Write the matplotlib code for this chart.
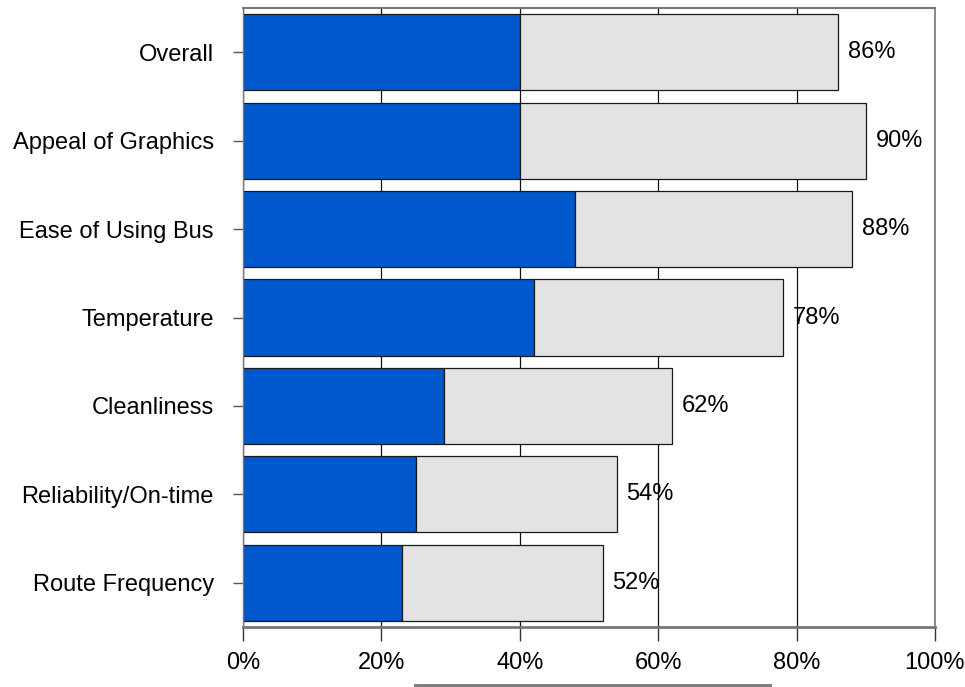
import matplotlib
matplotlib.use("Agg")
import matplotlib.pyplot as plt
from matplotlib.patches import Rectangle
import numpy as np

plt.rcParams['font.family'] = ['Liberation Sans', 'DejaVu Sans']
fs = 17

categories = ["Overall", "Appeal of Graphics", "Ease of Using Bus", "Temperature",
              "Cleanliness", "Reliability/On-time", "Route Frequency"]
blue_vals = [40, 40, 48, 42, 29, 25, 23]
total_vals = [86, 90, 88, 78, 62, 54, 52]
grey_vals = [t - b for t, b in zip(total_vals, blue_vals)]
xticks = [0, 20, 40, 60, 80, 100]
xtick_labels = ["0%", "20%", "40%", "60%", "80%", "100%"]

fig = plt.figure(figsize=(9.65, 6.87), dpi=100)
ax = fig.add_axes([243/965, (687-627)/687, (935-243)/965, (627-8)/687])

y = np.arange(len(categories))
h = 0.86
ax.barh(y, blue_vals, height=h, color="#0058CC", edgecolor="#1a1a1a", linewidth=0.9, zorder=2)
ax.barh(y, grey_vals, left=blue_vals, height=h, color="#E3E3E3", edgecolor="#1a1a1a",
        linewidth=0.9, zorder=2)

for yi, t in zip(y, total_vals):
    ax.annotate(f"{t}%", xy=(t, yi), xytext=(7, 0), textcoords="offset points",
                va="center", ha="left", fontsize=fs, color="black")

ax.set_xlim(0, 100)
ax.set_ylim(len(categories) - 0.5, -0.5)
ax.set_xticks(xticks)
ax.set_xticklabels(xtick_labels, fontsize=fs)
ax.set_yticks(y)
ax.set_yticklabels(categories, fontsize=fs)
ax.tick_params(axis="x", length=10, width=1, color="#333333", pad=8)
ax.tick_params(axis="y", length=7, width=1, color="#555555", pad=14)

ax.set_axisbelow(True)
ax.xaxis.grid(True, color="#111111", linewidth=0.9)
ax.yaxis.grid(False)

for side, lw in [("top", 1.5), ("right", 1.2), ("bottom", 2.0), ("left", 1.0)]:
    ax.spines[side].set_color("#777777")
    ax.spines[side].set_linewidth(lw)

# partially visible legend box frame at the bottom
fig.patches.append(Rectangle((415/965, -0.05), (770-415)/965, 0.052 + 1/687,
                             transform=fig.transFigure, facecolor="white",
                             edgecolor="#777777", linewidth=2, zorder=5))

fig.savefig("out.png", dpi=100)
